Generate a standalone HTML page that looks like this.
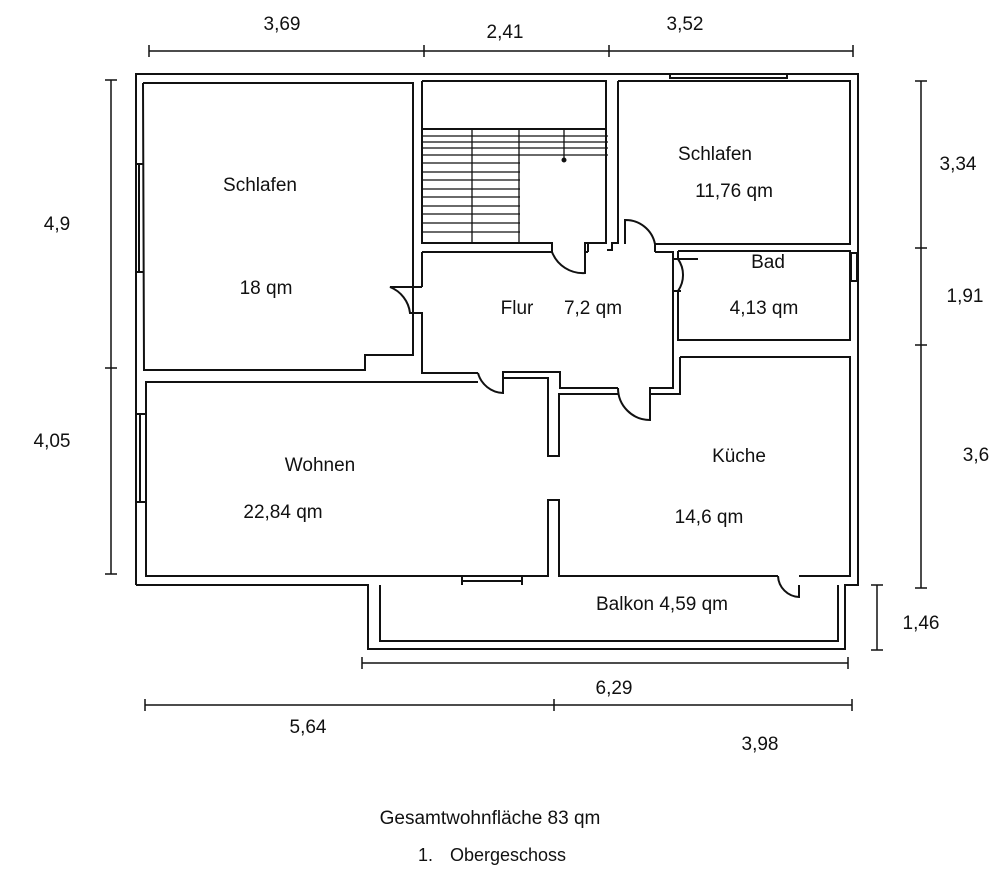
<!DOCTYPE html>
<html><head><meta charset="utf-8"><style>
html,body{margin:0;padding:0;background:#fff;}
svg{display:block;}
text{font-family:"Liberation Sans",sans-serif;font-size:19px;fill:#111;}
</style></head><body>
<svg width="1000" height="892" viewBox="0 0 1000 892" xmlns="http://www.w3.org/2000/svg">
<g fill="none" stroke="#111" stroke-width="2">
<polyline points="136,585 136,74 858,74 858,585 845,585 845,649 368,649 368,585 136,585"/>
<polyline points="143,83 413,83 413,355 365,355 365,370 144,370 143,83"/>
<line x1="139" y1="164" x2="139" y2="272"/><line x1="143" y1="164" x2="136" y2="164"/><line x1="143" y1="272" x2="136" y2="272"/>
<line x1="140" y1="414" x2="140" y2="502"/><line x1="146" y1="414" x2="136" y2="414"/><line x1="146" y1="502" x2="136" y2="502"/>
<polyline points="422,81 606,81 606,243 585,243 585,252 588,252"/>
<polyline points="422,81 422,243 552,243 552,252"/>
<line x1="423" y1="129" x2="606" y2="129"/>
<g stroke-width="1.3">
<line x1="423" y1="136" x2="608" y2="136"/><line x1="423" y1="142" x2="608" y2="142"/>
<line x1="423" y1="148" x2="608" y2="148"/><line x1="423" y1="155" x2="608" y2="155"/>
<line x1="423" y1="163" x2="520" y2="163"/><line x1="423" y1="172" x2="520" y2="172"/>
<line x1="423" y1="180" x2="520" y2="180"/><line x1="423" y1="189" x2="520" y2="189"/>
<line x1="423" y1="197" x2="520" y2="197"/><line x1="423" y1="206" x2="520" y2="206"/>
<line x1="423" y1="214" x2="520" y2="214"/><line x1="423" y1="223" x2="520" y2="223"/>
<line x1="423" y1="232" x2="520" y2="232"/>
<line x1="472" y1="130" x2="472" y2="243"/><line x1="519" y1="130" x2="519" y2="243"/>
<line x1="564" y1="130" x2="564" y2="160"/>
</g>
<circle cx="564" cy="160" r="1.5" fill="#111"/>
<path d="M552,252 A33,33 0 0 0 585,273 L585,252"/>
<polyline points="422,252 552,252"/>
<polyline points="422,252 422,287"/>
<path d="M422,287 L390,287 A32,32 0 0 1 410,313 L422,313 L422,373 L478,373"/>
<path d="M478,373 A27,27 0 0 0 503,393 L503,372 L560,372 L560,388 L618,388"/>
<path d="M618,388 A32,32 0 0 0 650,420 L650,388 L673,388 L673,252 L655,252"/>
<polyline points="588,252 588,243 607,243"/>
<polyline points="618,81 850,81 850,244 655,244"/>
<polyline points="618,81 618,243 612,243 612,250 607,250"/>
<path d="M625,244 L625,220 A30,30 0 0 1 655,244 L655,252"/>
<line x1="670" y1="74" x2="670" y2="79"/><line x1="787" y1="74" x2="787" y2="79"/><line x1="670" y1="78" x2="787" y2="78"/>
<polyline points="678,251 850,251 850,340 678,340 678,319"/>
<path d="M678,251 L678,259 A28,28 0 0 1 678,291 L678,319"/>
<line x1="673" y1="259" x2="698" y2="259"/>
<line x1="673" y1="291" x2="681" y2="291"/>
<rect x="851" y="253" width="6" height="28"/>
<polyline points="680,357 850,357 850,576 799,576"/>
<polyline points="680,357 680,394 650,394"/>
<polyline points="618,394 559,394 559,456 548,456 548,378 503,378"/>
<path d="M778,576 A22,22 0 0 0 799,597 L799,585"/>
<polyline points="778,576 559,576 559,500 548,500 548,576 146,576 146,382 478,382"/>
<line x1="462" y1="577" x2="462" y2="585"/><line x1="522" y1="577" x2="522" y2="585"/><line x1="462" y1="581" x2="522" y2="581"/>
<polyline points="380,585 380,641 838,641 838,585"/>
<g stroke-width="1.5">
<line x1="149" y1="51" x2="853" y2="51"/>
<line x1="149" y1="45" x2="149" y2="57"/><line x1="424" y1="45" x2="424" y2="57"/><line x1="609" y1="45" x2="609" y2="57"/><line x1="853" y1="45" x2="853" y2="57"/>
<line x1="111" y1="80" x2="111" y2="574"/>
<line x1="105" y1="80" x2="117" y2="80"/><line x1="105" y1="368" x2="117" y2="368"/><line x1="105" y1="574" x2="117" y2="574"/>
<line x1="921" y1="81" x2="921" y2="588"/>
<line x1="915" y1="81" x2="927" y2="81"/><line x1="915" y1="248" x2="927" y2="248"/><line x1="915" y1="345" x2="927" y2="345"/><line x1="915" y1="588" x2="927" y2="588"/>
<line x1="877" y1="585" x2="877" y2="650"/>
<line x1="871" y1="585" x2="883" y2="585"/><line x1="871" y1="650" x2="883" y2="650"/>
<line x1="362" y1="663" x2="848" y2="663"/>
<line x1="362" y1="657" x2="362" y2="669"/><line x1="848" y1="657" x2="848" y2="669"/>
<line x1="145" y1="705" x2="852" y2="705"/>
<line x1="145" y1="699" x2="145" y2="711"/><line x1="554" y1="699" x2="554" y2="711"/><line x1="852" y1="699" x2="852" y2="711"/>
</g>
</g>
<text x="260" y="191" text-anchor="middle">Schlafen</text>
<text x="266" y="294" text-anchor="middle">18 qm</text>
<text x="715" y="160" text-anchor="middle">Schlafen</text>
<text x="734" y="197" text-anchor="middle">11,76 qm</text>
<text x="517" y="314" text-anchor="middle">Flur</text>
<text x="593" y="314" text-anchor="middle">7,2 qm</text>
<text x="768" y="268" text-anchor="middle">Bad</text>
<text x="764" y="314" text-anchor="middle">4,13 qm</text>
<text x="320" y="471" text-anchor="middle">Wohnen</text>
<text x="283" y="518" text-anchor="middle">22,84 qm</text>
<text x="739" y="462" text-anchor="middle">Küche</text>
<text x="709" y="523" text-anchor="middle">14,6 qm</text>
<text x="662" y="610" text-anchor="middle">Balkon 4,59 qm</text>
<text x="282" y="30" text-anchor="middle">3,69</text>
<text x="505" y="38" text-anchor="middle">2,41</text>
<text x="685" y="30" text-anchor="middle">3,52</text>
<text x="57" y="230" text-anchor="middle">4,9</text>
<text x="52" y="447" text-anchor="middle">4,05</text>
<text x="958" y="170" text-anchor="middle">3,34</text>
<text x="965" y="302" text-anchor="middle">1,91</text>
<text x="976" y="461" text-anchor="middle">3,6</text>
<text x="921" y="629" text-anchor="middle">1,46</text>
<text x="614" y="694" text-anchor="middle">6,29</text>
<text x="308" y="733" text-anchor="middle">5,64</text>
<text x="760" y="750" text-anchor="middle">3,98</text>
<text x="490" y="824" text-anchor="middle">Gesamtwohnfläche 83 qm</text>
<text x="418" y="861" style="font-size:18px">1.</text>
<text x="450" y="861" style="font-size:18px">Obergeschoss</text>
</svg>
</body></html>
